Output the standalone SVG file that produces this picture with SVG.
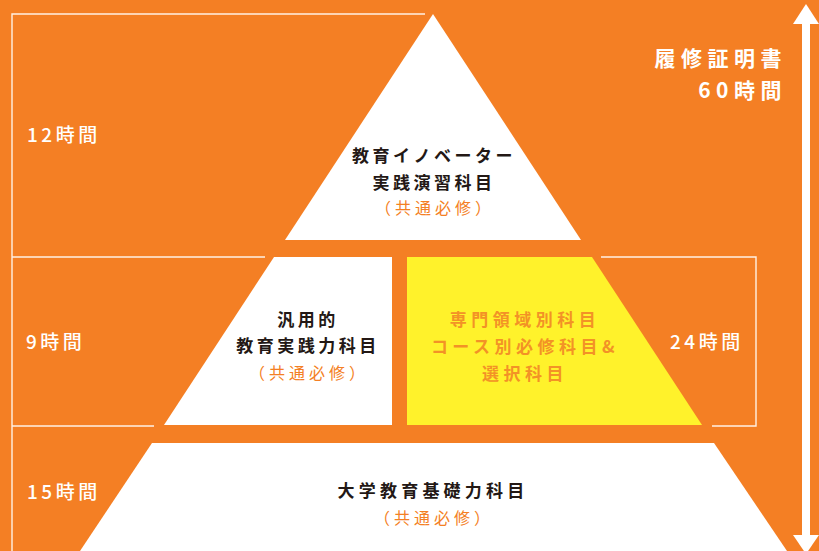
<svg xmlns="http://www.w3.org/2000/svg" width="819" height="551" viewBox="0 0 819 551">
<style>
.bg{fill:#F47F24}
.wh{fill:#FFFFFF}
.ye{fill:#FFF22B}
.ln{fill:none;stroke:#FFF1E4;stroke-width:1.4}
.t{font-family:"Noto Sans CJK JP","Noto Sans",sans-serif}
.dk{fill:#231815;font-weight:700;font-size:17px;letter-spacing:3.5px;text-anchor:middle}
.or{fill:#F47F24;font-weight:400;font-size:16px;letter-spacing:4px;text-anchor:middle}
.yt{fill:#F39226;font-weight:700;font-size:17px;letter-spacing:4.5px;text-anchor:middle}
.lb{fill:#FFFFFF;font-weight:500;font-size:19px;letter-spacing:3.5px}
.tr{fill:#FFFFFF;font-weight:700;font-size:21px;letter-spacing:5.5px;text-anchor:end}
</style>
<rect class="bg" x="0" y="0" width="819" height="551"/>
<g id="connectors">
<polyline class="ln" points="425,14 12,14 12,551"/>
<line class="ln" x1="12" y1="257" x2="265" y2="257"/>
<line class="ln" x1="12" y1="426" x2="154" y2="426"/>
<polyline class="ln" points="601,257 756,257 756,426 712,426"/>
<g id="arrow">
<rect class="wh" x="802" y="22" width="8" height="515"/>
<polygon class="wh" points="806,4 793,24 819,24"/>
<polygon class="wh" points="806,554 793,535 819,535"/>
</g>
</g>
<g id="node-top">
<polygon class="wh" points="433,14 285,240 581,240"/>
<text class="t dk" x="434" y="162">教育イノベーター</text>
<text class="t dk" x="434" y="189">実践演習科目</text>
<text class="t or" x="435" y="214">（共通必修）</text>
</g>
<g id="node-mid-left">
<polygon class="wh" points="274,257 392,257 392,425 164,425"/>
<text class="t dk" x="308" y="326">汎用的</text>
<text class="t dk" x="308" y="352">教育実践力科目</text>
<text class="t or" x="309" y="379">（共通必修）</text>
</g>
<g id="node-mid-right">
<polygon class="ye" points="407,257 592,257 702,425 407,425"/>
<text class="t yt" x="525" y="326">専門領域別科目</text>
<text class="t yt" x="525" y="353">コース別必修科目&amp;</text>
<text class="t yt" x="525" y="380">選択科目</text>
</g>
<g id="node-bottom">
<polygon class="wh" points="152,443 714,443 787,551 80,551"/>
<text class="t dk" x="433" y="497" style="letter-spacing:4.2px">大学教育基礎力科目</text>
<text class="t or" x="434" y="524">（共通必修）</text>
</g>
<g id="labels">
<text class="t lb" x="27" y="142">12時間</text>
<text class="t lb" x="26" y="349">9時間</text>
<text class="t lb" x="27" y="499">15時間</text>
<text class="t lb" x="670" y="349">24時間</text>
<text class="t tr" x="787" y="65.5">履修証明書</text>
<text class="t tr" x="787" y="98">60時間</text>
</g>
</svg>
